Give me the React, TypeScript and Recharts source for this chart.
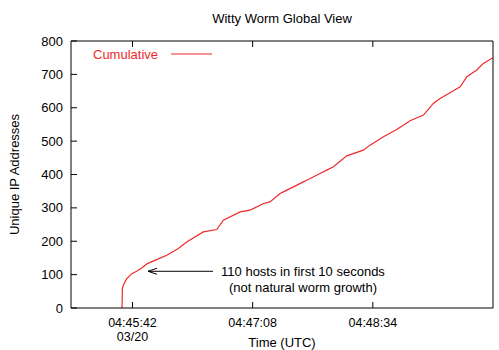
import { LineChart, Line, XAxis, YAxis, Legend, ReferenceLine } from "recharts"

// seconds since 04:44:58 UTC, 03/20
const TIMES = [
  36.5, 36.8, 37.6, 39.9, 43.5, 47.0, 50.6, 54.6, 61.3, 68.5, 76.8, 82.8, 94.7, 104.3,
  109.0, 121.0, 128.1, 137.7, 142.4, 149.6, 152.0, 166.3, 168.7, 178.2, 183.0, 187.8,
  197.4, 209.2, 214.0, 223.6, 233.1, 242.7, 252.2, 259.3, 264.1, 272.5, 278.5, 283.3,
  290.4, 295.1, 301.9,
]
const HOSTS = [
  0, 60, 70, 88, 103, 110, 120, 133, 145, 158, 178, 198, 228, 235,
  263, 288, 293, 313, 318, 343, 348, 378, 383, 403, 413, 423,
  456, 473, 488, 513, 535, 561, 578, 613, 628, 648, 663, 693,
  713, 733, 750,
]

const X_TICKS = [44, 130, 216]
const X_TICK_LABELS = ["04:45:42", "04:47:08", "04:48:34"]
const DATE_LABEL = "03/20"
const Y_TICKS = [0, 100, 200, 300, 400, 500, 600, 700, 800]

const ARROW_TIP = { t: 55.1, hosts: 110 }
const ARROW_TAIL = { t: 101.6, hosts: 110 }
const NOTE_LINES = ["110 hosts in first 10 seconds", "(not natural worm growth)"]

const RED = "#ee2a2a"
const FONT = "'Liberation Sans', Arial, Helvetica, sans-serif"

const data = TIMES.map((t, i) => ({ t, hosts: HOSTS[i] }))

const BottomTick = (props: any) => {
  const { x, y, payload } = props
  const idx = X_TICKS.indexOf(payload.value)
  return (
    <g>
      <line x1={x} y1={y} x2={x} y2={y - 6} stroke="#000" />
      <text x={x} y={y + 19} textAnchor="middle" fontSize={12.5} fill="#000">
        {X_TICK_LABELS[idx]}
      </text>
      {idx === 0 && (
        <text x={x} y={y + 33} textAnchor="middle" fontSize={12.5} fill="#000">
          {DATE_LABEL}
        </text>
      )}
    </g>
  )
}

const TopTick = (props: any) => (
  <line x1={props.x} y1={props.y} x2={props.x} y2={props.y + 6} stroke="#000" />
)

const LeftTick = (props: any) => {
  const { x, y, payload } = props
  return (
    <g>
      <line x1={x} y1={y} x2={x + 6} y2={y} stroke="#000" />
      <text x={x - 8} y={y + 4.5} textAnchor="end" fontSize={13} fill="#000">
        {payload.value}
      </text>
    </g>
  )
}

const RightTick = (props: any) => (
  <line x1={props.x} y1={props.y} x2={props.x - 6} y2={props.y} stroke="#000" />
)

const Annotation = (props: any) => {
  const { x1, y1, x2, y2 } = props
  const cx = x2 + 90
  return (
    <g>
      <line x1={x1} y1={y1} x2={x2} y2={y2} stroke="#000" />
      <line x1={x1} y1={y1} x2={x1 + 9} y2={y1 - 3} stroke="#000" />
      <line x1={x1} y1={y1} x2={x1 + 9} y2={y1 + 3} stroke="#000" />
      <text x={cx} y={y1 + 4.5} textAnchor="middle" fontSize={13} fill="#000">
        {NOTE_LINES[0]}
      </text>
      <text x={cx} y={y1 + 20.5} textAnchor="middle" fontSize={13} fill="#000">
        {NOTE_LINES[1]}
      </text>
    </g>
  )
}

const LegendContent = () => (
  <svg width={130} height={16}>
    <text x={3} y={12.5} fontSize={13} fill={RED} fontFamily={FONT}>
      Cumulative
    </text>
    <line x1={81} y1={8} x2={122} y2={8} stroke={RED} />
  </svg>
)

export default function App() {
  return (
    <div style={{ position: "absolute", left: 0, top: 0, width: 499, height: 350, fontFamily: FONT, background: "#fff" }}>
      <div
        style={{
          position: "absolute",
          left: 0,
          width: 564,
          top: 11,
          textAlign: "center",
          fontSize: 13,
          color: "#000",
        }}
      >
        Witty Worm Global View
      </div>
      <LineChart
        width={499}
        height={350}
        data={data}
        margin={{ top: 40, right: 5, bottom: 0, left: 0 }}
        style={{ fontFamily: FONT }}
      >
        <XAxis
          dataKey="t"
          type="number"
          domain={[0, 302]}
          ticks={X_TICKS}
          tick={<BottomTick />}
          tickSize={0}
          tickMargin={0}
          tickLine={false}
          height={42}
          stroke="#000"
          interval={0}
          allowDataOverflow
          label={(p: any) => {
            const vb = p.viewBox
            return (
              <text x={vb.x + vb.width / 2} y={vb.y + 39} textAnchor="middle" fontSize={13} fill="#000">
                Time (UTC)
              </text>
            )
          }}
        />
        <XAxis
          xAxisId="top"
          orientation="top"
          dataKey="t"
          type="number"
          domain={[0, 302]}
          ticks={X_TICKS}
          tick={<TopTick />}
          tickSize={0}
          tickMargin={0}
          tickLine={false}
          height={1}
          stroke="#000"
          interval={0}
        />
        <YAxis
          type="number"
          domain={[0, 800]}
          ticks={Y_TICKS}
          tick={<LeftTick />}
          tickSize={0}
          tickMargin={0}
          tickLine={false}
          width={71}
          stroke="#000"
          interval={0}
          label={(p: any) => {
            const vb = p.viewBox
            const cy = vb.y + vb.height / 2
            return (
              <text
                x={19}
                y={cy}
                transform={`rotate(-90 19 ${cy})`}
                textAnchor="middle"
                fontSize={13}
                fill="#000"
              >
                Unique IP Addresses
              </text>
            )
          }}
        />
        <YAxis
          yAxisId="right"
          orientation="right"
          type="number"
          domain={[0, 800]}
          ticks={Y_TICKS}
          tick={<RightTick />}
          tickSize={0}
          tickMargin={0}
          tickLine={false}
          width={1}
          stroke="#000"
          interval={0}
        />
        <Legend
          layout="horizontal"
          verticalAlign="middle"
          align="center"
          wrapperStyle={{ top: 46, left: 90, width: 130, height: 16 }}
          content={<LegendContent />}
        />
        <ReferenceLine
          segment={[
            { x: ARROW_TIP.t, y: ARROW_TIP.hosts },
            { x: ARROW_TAIL.t, y: ARROW_TAIL.hosts },
          ]}
          shape={<Annotation />}
        />
        <Line
          dataKey="hosts"
          type="linear"
          stroke={RED}
          strokeWidth={1.2}
          dot={false}
          isAnimationActive={false}
        />
      </LineChart>
    </div>
  )
}
